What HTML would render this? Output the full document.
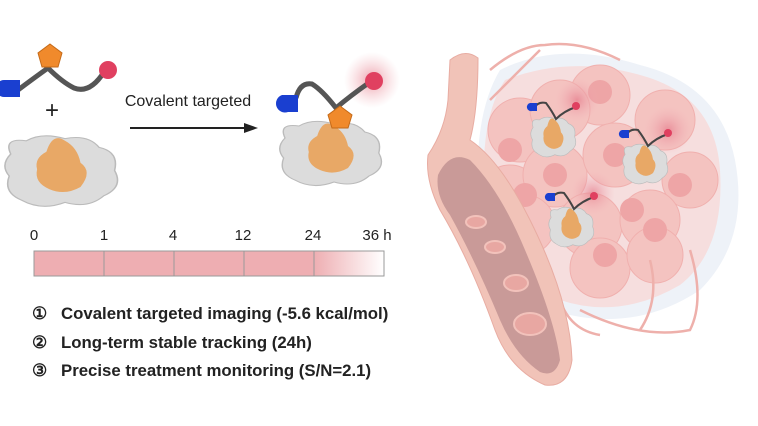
<!DOCTYPE html>
<html><head><meta charset="utf-8"><style>
body{margin:0;width:758px;height:421px;background:#fff;overflow:hidden;font-family:"Liberation Sans",sans-serif}
</style></head><body>
<svg width="758" height="421" viewBox="0 0 758 421" xmlns="http://www.w3.org/2000/svg">
<defs>
<radialGradient id="glow"><stop offset="0" stop-color="#e57a8a" stop-opacity=".7"/><stop offset="1" stop-color="#f2b0b8" stop-opacity="0"/></radialGradient>
<linearGradient id="fade" x1="0" x2="1"><stop offset="0" stop-color="#eeaeb2"/><stop offset="1" stop-color="#fff"/></linearGradient>
<g id="prot">
<path d="M5,20 Q0,5 15,8 Q25,0 40,6 Q55,2 62,14 Q75,18 72,35 Q78,50 65,58 Q55,70 40,64 Q25,72 12,62 Q0,55 4,40 Q-2,30 5,20Z" fill="#dcdcdc" stroke="#bbb"/>
<path d="M28,18 Q32,0 40,8 Q48,14 50,28 Q58,36 50,50 Q40,58 30,52 Q20,46 22,34 Q20,24 28,18Z" fill="#e8a866"/>
</g>
<g id="mini">
<use href="#prot" transform="scale(0.62)"/>
</g>
</defs>
<!-- left reagents -->
<path d="M18,90 Q34,78 48,68 Q62,82 74,88 Q90,94 104,72" stroke="#555" stroke-width="5" fill="none"/>
<polygon points="50,44 62,53 58,67 42,67 38,53" fill="#f08a2c" stroke="#c56a18"/>
<circle cx="108" cy="70" r="9" fill="#e04060"/>
<path d="M4,80 h16 v17 h-16 a8,8.5 0 0 1 0,-17Z" fill="#1a3fd0"/>
<text x="52" y="118" font-size="24" text-anchor="middle" fill="#222">+</text>
<use href="#prot" transform="translate(3,132) scale(1.55,1.1)"/>
<!-- arrow -->
<text x="188" y="106" font-size="16" text-anchor="middle" fill="#222">Covalent targeted</text>
<line x1="130" y1="128" x2="245" y2="128" stroke="#222" stroke-width="2"/>
<polygon points="258,128 244,123 244,133" fill="#222"/>
<!-- product -->
<circle cx="372" cy="80" r="28" fill="url(#glow)"/>
<use href="#prot" transform="translate(278,118) scale(1.4,1.0)"/>
<path d="M296,98 Q300,82 312,84 Q322,90 336,108 Q350,96 370,82" stroke="#555" stroke-width="5" fill="none"/>
<polygon points="340,106 352,115 348,128 332,128 328,115" fill="#f08a2c" stroke="#c56a18"/>
<circle cx="374" cy="81" r="9" fill="#e04060"/>
<path d="M282,95 h16 v17 h-10 a7,7 0 0 1 -6,-17Z" fill="#1a3fd0"/>
<!-- timeline -->
<g font-size="15" fill="#222">
<text x="34" y="240" text-anchor="middle">0</text><text x="104" y="240" text-anchor="middle">1</text>
<text x="173" y="240" text-anchor="middle">4</text><text x="243" y="240" text-anchor="middle">12</text>
<text x="313" y="240" text-anchor="middle">24</text><text x="377" y="240" text-anchor="middle">36 h</text>
</g>
<rect x="34" y="251" width="280" height="25" fill="#eeaeb2"/>
<rect x="314" y="251" width="70" height="25" fill="url(#fade)"/>
<rect x="34" y="251" width="350" height="25" fill="none" stroke="#999"/>
<g stroke="#999"><line x1="104" y1="251" x2="104" y2="276"/><line x1="174" y1="251" x2="174" y2="276"/><line x1="244" y1="251" x2="244" y2="276"/><line x1="314" y1="251" x2="314" y2="276"/></g>
<g font-size="16.8" font-weight="bold" fill="#222">
<text x="32" y="319">① <tspan x="61">Covalent targeted imaging (-5.6 kcal/mol)</tspan></text>
<text x="32" y="348">② <tspan x="61">Long-term stable tracking (24h)</tspan></text>
<text x="32" y="376">③ <tspan x="61">Precise treatment monitoring (S/N=2.1)</tspan></text>
</g>
<!-- tumor background -->
<path d="M500,70 Q560,40 640,65 Q720,85 735,160 Q750,240 700,290 Q640,330 570,315 Q490,300 480,220 Q470,120 500,70Z" fill="#eef2f8"/>
<path d="M505,80 Q570,55 640,75 Q715,95 720,170 Q725,250 680,285 Q620,320 560,300 Q495,285 485,210 Q478,120 505,80Z" fill="#f6dede"/>
<g fill="#f4c3c0" stroke="#f0b0ae">
<circle cx="520" cy="130" r="32"/><circle cx="600" cy="95" r="30"/><circle cx="560" cy="110" r="30"/>
<circle cx="510" cy="195" r="30"/><circle cx="555" cy="175" r="32"/><circle cx="615" cy="155" r="32"/>
<circle cx="665" cy="120" r="30"/><circle cx="690" cy="180" r="28"/><circle cx="525" cy="225" r="30"/>
<circle cx="590" cy="225" r="32"/><circle cx="650" cy="220" r="30"/><circle cx="600" cy="268" r="30"/>
<circle cx="655" cy="255" r="28"/>
</g>
<g fill="#eea5a6">
<circle cx="510" cy="150" r="12"/><circle cx="600" cy="92" r="12"/><circle cx="555" cy="175" r="12"/>
<circle cx="615" cy="155" r="12"/><circle cx="680" cy="185" r="12"/><circle cx="525" cy="195" r="12"/>
<circle cx="632" cy="210" r="12"/><circle cx="605" cy="255" r="12"/><circle cx="655" cy="230" r="12"/>
</g>
<g stroke="#eeb0ab" stroke-width="2.5" fill="none">
<path d="M490,70 Q520,45 545,45 Q580,40 620,60"/><path d="M490,100 Q510,80 540,50"/>
<path d="M580,310 Q640,340 690,330 Q705,300 690,250"/><path d="M640,330 Q660,300 650,260"/>
<path d="M560,300 Q570,330 600,335"/>
</g>
<!-- glows + proteins -->
<circle cx="577" cy="100" r="22" fill="url(#glow)"/><circle cx="668" cy="130" r="24" fill="url(#glow)"/><circle cx="593" cy="193" r="22" fill="url(#glow)"/>
<g transform="translate(530,115)"><use href="#mini"/><path d="M3,-6 Q8,-14 16,-12 Q22,-4 26,4 Q34,-4 46,-8" stroke="#444" stroke-width="2" fill="none"/><circle cx="46" cy="-9" r="4" fill="#e04060"/><path d="M0,-12 h7 v8 h-5 a4,4 0 0 1 -2,-8Z" fill="#1a3fd0"/></g>
<g transform="translate(622,142)"><use href="#mini"/><path d="M3,-6 Q8,-14 16,-12 Q22,-4 26,4 Q34,-4 46,-8" stroke="#444" stroke-width="2" fill="none"/><circle cx="46" cy="-9" r="4" fill="#e04060"/><path d="M0,-12 h7 v8 h-5 a4,4 0 0 1 -2,-8Z" fill="#1a3fd0"/></g>
<g transform="translate(548,205)"><use href="#mini"/><path d="M3,-6 Q8,-14 16,-12 Q22,-4 26,4 Q34,-4 46,-8" stroke="#444" stroke-width="2" fill="none"/><circle cx="46" cy="-9" r="4" fill="#e04060"/><path d="M0,-12 h7 v8 h-5 a4,4 0 0 1 -2,-8Z" fill="#1a3fd0"/></g>
<!-- vessel -->
<path d="M450,60 Q465,48 478,58 Q478,110 470,140 Q500,160 530,220 Q570,300 572,360 Q568,388 545,385 Q510,370 495,330 Q470,260 440,210 Q425,180 428,155 Q445,130 448,100 Z" fill="#f1c3b8" stroke="#e8aca2"/>
<path d="M438,175 Q450,150 470,160 Q500,190 525,250 Q555,320 560,360 Q555,378 540,372 Q515,355 500,320 Q475,260 450,215 Q435,195 438,175Z" fill="#c99a98"/>
<g fill="#e8a7a2" stroke="#f2c2bb" stroke-width="2">
<ellipse cx="476" cy="222" rx="10" ry="6"/><ellipse cx="495" cy="247" rx="10" ry="6"/>
<ellipse cx="516" cy="283" rx="12" ry="8"/><ellipse cx="530" cy="324" rx="16" ry="11"/>
</g>
</svg>
</body></html>
